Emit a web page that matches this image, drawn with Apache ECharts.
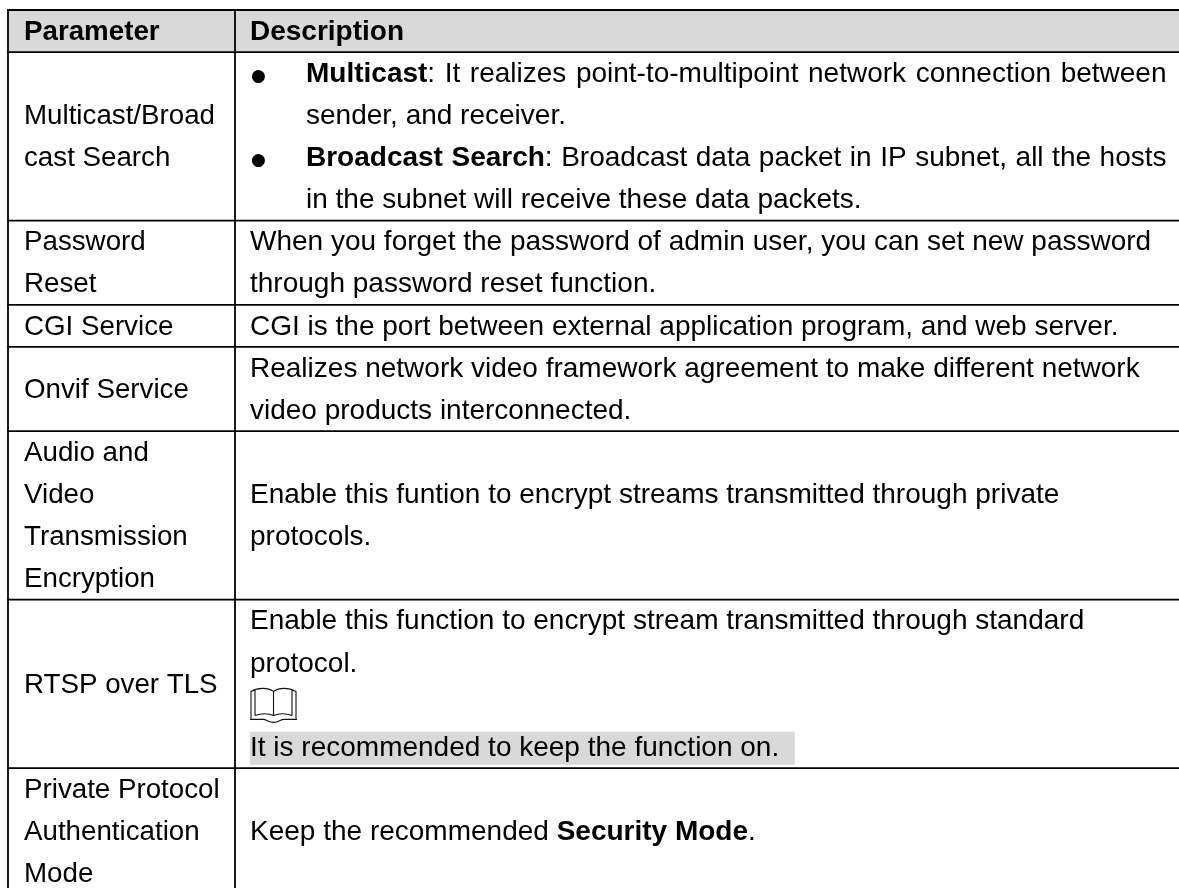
<!DOCTYPE html>
<html>
<head>
<meta charset="utf-8">
<style>
  html, body { margin: 0; padding: 0; background: #fff; }
  #main { width: 1179px; height: 888px; }
</style>
<script src="https://cdn.jsdelivr.net/npm/echarts@6/dist/echarts.min.js"></script>
</head>
<body>
<div id="main"></div>
<script>
// *word* marks a bold run
const parameterRows = [
  ['*Parameter*'],
  ['Multicast/Broad', 'cast Search'],
  ['Password', 'Reset'],
  ['CGI Service'],
  ['Onvif Service'],
  ['Audio and', 'Video', 'Transmission', 'Encryption'],
  ['RTSP over TLS'],
  ['Private Protocol', 'Authentication', 'Mode']
];
const descriptionRows = [
  ['*Description*'],
  ['*Multicast*: It realizes point-to-multipoint network connection between', 'sender, and receiver.',
    '*Broadcast Search*: Broadcast data packet in IP subnet, all the hosts', 'in the subnet will receive these data packets.'],
  ['When you forget the password of admin user, you can set new password', 'through password reset function.'],
  ['CGI is the port between external application program, and web server.'],
  ['Realizes network video framework agreement to make different network', 'video products interconnected.'],
  ['Enable this funtion to encrypt streams transmitted through private', 'protocols.'],
  ['Enable this function to encrypt stream transmitted through standard', 'protocol.', '', 'It is recommended to keep the function on.  '],
  ['Keep the recommended *Security Mode*.']
];
const listRow = 1;
const bulletLines = [0, 2];
const noteRow = 6;
const noteIconLine = 2;
const noteTextLine = 3;
const rowLineCounts = parameterRows.map((p, i) => Math.max(p.length, descriptionRows[i].length));
const rowStarts = rowLineCounts.map((n, i) => rowLineCounts.slice(0, i).reduce((a, b) => a + b, 0));

const FONT = '"Liberation Sans", Arial, sans-serif';
const FONT_SIZE = 28;
const PARAM_FONT_SIZE = 27.72;
const TEXT_COLOR = '#000';
const HEADER_FILL = '#d9d9d9';
const BORDER = 1.8;
const LEFT_EDGE = 8, COLUMN_EDGE = 235, RIGHT_EDGE = 1179;
const PARAM_X = 24, DESC_X = 250, LIST_X = 306, JUSTIFY_END = 1166.5, BULLET_X = 258.5;
const LINE_PITCH = 42.12, TEXT_SHIFT = 1;
const TOTAL_LINES = rowLineCounts.reduce((a, b) => a + b, 0);

const ctx = document.createElement('canvas').getContext('2d');
function measure(text, bold) {
  ctx.font = (bold ? 'bold ' : '') + FONT_SIZE + 'px ' + FONT;
  return ctx.measureText(text).width;
}

function parseRuns(line) {
  return line.split('*').map((text, i) => ({ text, bold: i % 2 === 1 })).filter(r => r.text);
}

function textEl(text, x, y, bold, size) {
  return {
    type: 'text',
    style: {
      text, x, y,
      font: (bold ? 'bold ' : '') + (size || FONT_SIZE) + 'px ' + FONT,
      fill: TEXT_COLOR,
      textAlign: 'left',
      textVerticalAlign: 'middle'
    }
  };
}

function lineEls(line, x, y, justifyEnd) {
  const out = [];
  const runs = parseRuns(line);
  if (!justifyEnd) {
    runs.forEach(r => {
      out.push(textEl(r.text, x, y, r.bold));
      x += measure(r.text, r.bold);
    });
    return out;
  }
  const words = [];
  runs.forEach(r => {
    r.text.split(' ').forEach((w, i) => {
      if (!w) return;
      if (i === 0 && words.length && r.text[0] !== ' ') {
        words[words.length - 1].push({ text: w, bold: r.bold });
      } else {
        words.push([{ text: w, bold: r.bold }]);
      }
    });
  });
  const widths = words.map(w => w.reduce((a, p) => a + measure(p.text, p.bold), 0));
  const gap = (justifyEnd - x - widths.reduce((a, b) => a + b, 0)) / (words.length - 1);
  words.forEach((w, i) => {
    let px = x;
    w.forEach(p => {
      out.push(textEl(p.text, px, y, p.bold));
      px += measure(p.text, p.bold);
    });
    x += widths[i] + gap;
  });
  return out;
}

function bookIcon(x, y) {
  return {
    type: 'path',
    shape: {
      pathData: 'M1 31 V4 C8 0 18 0 23.5 4 C29 0 39 0 46 4 V31 ' +
        'M5 28 V2 M42 28 V2 M23.5 4 V28 ' +
        'M5 28 C11 26 18 26 23.5 28 C29 26 36 26 42 28 ' +
        'M0 32 H13 C17 32 18 35 23.5 35 C29 35 30 32 34 32 H47',
      x, y, width: 47, height: 35
    },
    style: { fill: 'none', stroke: '#111', lineWidth: 1.1 }
  };
}

function renderRow(params, api) {
  const i = params.dataIndex;
  const start = api.value(0);
  const count = api.value(1);
  const top = api.coord([0, start])[1];
  const bottom = api.coord([0, start + count])[1];
  const lineH = (bottom - top) / count;
  const xLeft = api.coord([LEFT_EDGE, 0])[0];
  const xCol = api.coord([COLUMN_EDGE, 0])[0];
  const xRight = api.coord([RIGHT_EDGE, 0])[0];
  const children = [];

  if (i === 0) {
    children.push({ type: 'rect', shape: { x: xLeft, y: top, width: xRight - xLeft, height: lineH }, style: { fill: HEADER_FILL } });
  }
  if (i === noteRow) {
    const noteY = top + noteTextLine * lineH;
    const noteText = descriptionRows[i][noteTextLine];
    children.push({ type: 'rect', shape: { x: DESC_X, y: noteY + 5.6, width: measure(noteText, false), height: 33 }, style: { fill: HEADER_FILL } });
    children.push(bookIcon(DESC_X, top + noteIconLine * lineH + 4));
  }

  const paramLines = parameterRows[i];
  const paramTop = top + (count - paramLines.length) * lineH / 2;
  paramLines.forEach((line, k) => {
    parseRuns(line).forEach(r => {
      children.push(textEl(r.text, PARAM_X, paramTop + (k + 0.5) * lineH + TEXT_SHIFT, r.bold, PARAM_FONT_SIZE));
    });
  });

  const descLines = descriptionRows[i];
  const descTop = top + (count - descLines.length) * lineH / 2;
  descLines.forEach((line, k) => {
    if (!line) return;
    const y = descTop + (k + 0.5) * lineH + TEXT_SHIFT;
    if (i === listRow) {
      const isBullet = bulletLines.indexOf(k) >= 0;
      if (isBullet) {
        children.push({
          type: 'text',
          style: { text: '●', x: BULLET_X, y: y + 2, font: '17px "DejaVu Sans"', fill: TEXT_COLOR, textAlign: 'center', textVerticalAlign: 'middle' }
        });
      }
      children.push(...lineEls(line, LIST_X, y, isBullet ? JUSTIFY_END : 0));
    } else {
      children.push(...lineEls(line, DESC_X, y));
    }
  });

  // borders
  const hLine = yy => ({ type: 'line', shape: { x1: xLeft - BORDER / 2, y1: yy, x2: xRight, y2: yy }, style: { stroke: '#000', lineWidth: BORDER } });
  const vLine = xx => ({ type: 'line', shape: { x1: xx, y1: top, x2: xx, y2: bottom }, style: { stroke: '#000', lineWidth: BORDER } });
  if (i === 0) children.push(hLine(top));
  children.push(vLine(xLeft), vLine(xCol), hLine(bottom));

  return { type: 'group', children };
}

const chart = echarts.init(document.getElementById('main'));
chart.setOption({
  animation: false,
  backgroundColor: '#fff',
  // the last row runs off the bottom of the picture, so the axis stops one line short of it
  grid: { left: 0, top: 10, width: 1179, height: LINE_PITCH * (TOTAL_LINES - 1), containLabel: false },
  xAxis: { type: 'value', min: 0, max: 1179, show: false },
  yAxis: { type: 'value', min: 0, max: TOTAL_LINES - 1, inverse: true, show: false },
  series: [{
    type: 'custom',
    coordinateSystem: 'cartesian2d',
    silent: true,
    clip: false,
    encode: { x: [], y: 0 },
    data: rowStarts.map((s, i) => [s, rowLineCounts[i]]),
    renderItem: renderRow
  }]
});
</script>
</body>
</html>
